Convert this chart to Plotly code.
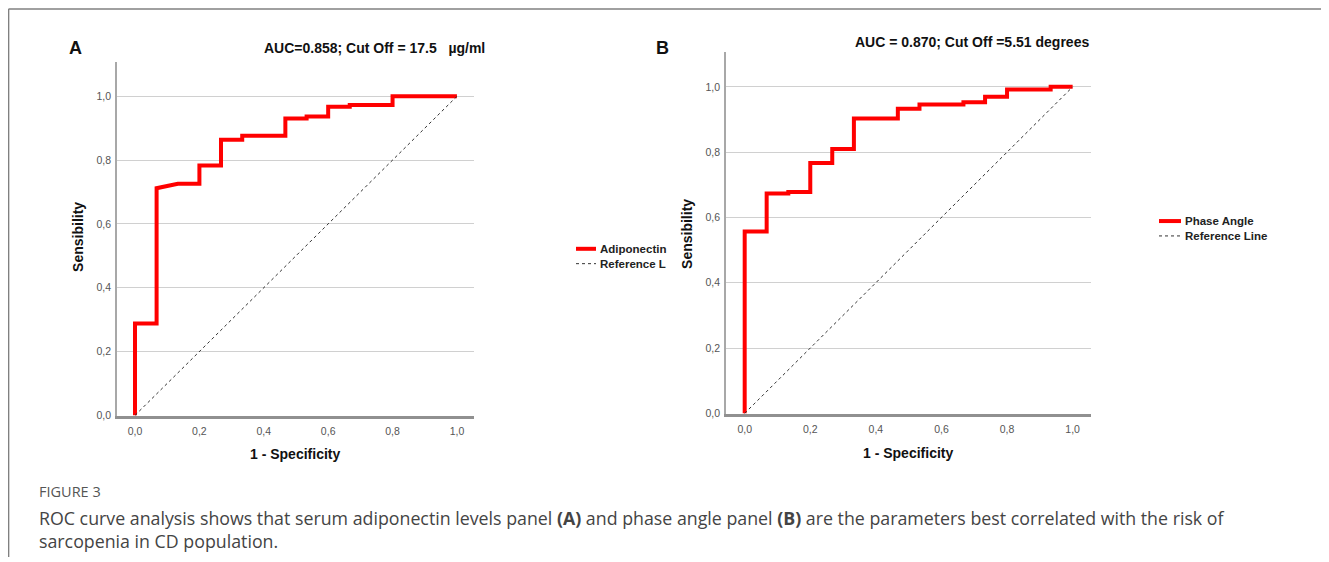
import plotly.graph_objects as go

# ---- data ----
fpr_a = [0, 0, 0.067, 0.067, 0.133, 0.2, 0.2, 0.267, 0.267, 0.333, 0.333, 0.467, 0.467,
         0.533, 0.533, 0.6, 0.6, 0.667, 0.667, 0.8, 0.8, 1.0]
tpr_a = [0, 0.288, 0.288, 0.712, 0.726, 0.726, 0.783, 0.783, 0.864, 0.864, 0.876, 0.876,
         0.930, 0.930, 0.937, 0.937, 0.967, 0.967, 0.973, 0.973, 1.0, 1.0]

fpr_b = [0, 0, 0.067, 0.067, 0.133, 0.133, 0.2, 0.2, 0.267, 0.267, 0.333, 0.333, 0.467,
         0.467, 0.533, 0.533, 0.667, 0.667, 0.733, 0.733, 0.8, 0.8, 0.933, 0.933, 1.0]
tpr_b = [0, 0.557, 0.557, 0.673, 0.673, 0.678, 0.678, 0.767, 0.767, 0.81, 0.81, 0.903,
         0.903, 0.933, 0.933, 0.946, 0.946, 0.953, 0.953, 0.970, 0.970, 0.992, 0.992, 1.0, 1.0]

ref_x = [0, 1]
ref_y = [0, 1]

tick_vals = [0, 0.2, 0.4, 0.6, 0.8, 1.0]
tick_text = ["0,0", "0,2", "0,4", "0,6", "0,8", "1,0"]

name_a = "Adiponectin"
name_ref_a = "Reference L"
name_b = "Phase Angle"
name_ref_b = "Reference Line"

title_a = "AUC=0.858; Cut Off = 17.5&nbsp;&nbsp; \u00b5g/ml"
title_b = "AUC = 0.870; Cut Off =5.51 degrees"
caption_head = "FIGURE 3"
caption = ("ROC curve analysis shows that serum adiponectin levels panel <b>(A)</b> and phase angle panel "
           "<b>(B)</b> are the parameters best correlated with the risk of<br>sarcopenia in CD population.")

# page has an 8px body margin; figure is sized to fit the window
OFF = 8
PAGE_W, PAGE_H = 1329, 562
W, H = PAGE_W - OFF, PAGE_H - OFF
FONT = "Liberation Sans, Arial, sans-serif"
RED = "#ff0000"
DOT = "#333333"


def px(v):
    return (v - OFF) / W


def py(v):
    return 1 - (v - OFF) / H


fig = go.Figure()
fig.add_trace(go.Scatter(x=fpr_a, y=tpr_a, mode="lines", name=name_a,
                         line=dict(color=RED, width=4), xaxis="x", yaxis="y"))
fig.add_trace(go.Scatter(x=ref_x, y=ref_y, mode="lines", name=name_ref_a,
                         line=dict(color=DOT, width=1, dash="dot"), xaxis="x", yaxis="y"))
fig.add_trace(go.Scatter(x=fpr_b, y=tpr_b, mode="lines", name=name_b,
                         line=dict(color=RED, width=4), xaxis="x2", yaxis="y2"))
fig.add_trace(go.Scatter(x=ref_x, y=ref_y, mode="lines", name=name_ref_b,
                         line=dict(color=DOT, width=1, dash="dot"), xaxis="x2", yaxis="y2"))

axis_common = dict(tickvals=tick_vals, ticktext=tick_text, ticks="", showline=True,
                   tickfont=dict(family=FONT, size=10.5, color="#555555"),
                   zeroline=False, fixedrange=True)

fig.update_layout(
    width=W, height=H,
    margin=dict(l=0, r=0, t=0, b=0),
    paper_bgcolor="white", plot_bgcolor="white",
    showlegend=False,
    xaxis=dict(domain=[px(117), px(474)], range=[-0.056, 1.053], showgrid=False,
               anchor="y", linewidth=2.5, linecolor="#909090", ticklabelstandoff=3, **axis_common),
    yaxis=dict(domain=[py(420), py(62)], range=[-0.003, 1.109], showgrid=True, gridcolor="#d0d0d0",
               gridwidth=1.3, anchor="x", linewidth=1.8, linecolor="#a8a8a8", ticklabelstandoff=2,
               **axis_common),
    xaxis2=dict(domain=[px(726), px(1091)], range=[-0.057, 1.056], showgrid=False,
                anchor="y2", linewidth=2.5, linecolor="#909090", ticklabelstandoff=3, **axis_common),
    yaxis2=dict(domain=[py(418), py(52)], range=[-0.003, 1.108], showgrid=True, gridcolor="#d0d0d0",
                gridwidth=1.3, anchor="x2", linewidth=1.8, linecolor="#a8a8a8", ticklabelstandoff=2,
                **axis_common),
)

ann = []


def add_text(text, x, y, size, xanchor="center", yanchor="middle", angle=0, bold=True, color="#111111",
             family=FONT, align="left"):
    ann.append(dict(text=text, x=px(x), y=py(y), xref="paper", yref="paper", showarrow=False,
                    xanchor=xanchor, yanchor=yanchor, textangle=angle, align=align,
                    font=dict(family=family, size=size, color=color, weight="bold" if bold else "normal")))


add_text("A", 75, 48, 18)
add_text("B", 662, 48, 18)
add_text(title_a, 374, 48, 14)
add_text(title_b, 972, 42, 14)
add_text("1 - Specificity", 295, 458, 14)
add_text("1 - Specificity", 908, 457, 14)
add_text("Sensibility", 78, 239, 14, angle=-90)
add_text("Sensibility", 687, 236, 14, angle=-90)
add_text(caption_head, 37, 496, 14.5, xanchor="left", bold=False, color="#555555",
         family="Open Sans, sans-serif")
add_text(caption, 37, 534, 17.8, xanchor="left", bold=False, color="#444444",
         family="Open Sans, sans-serif")

# legends (drawn manually to match the short SPSS-style keys)
LEG_FONT = 11.5
add_text(name_a, 598, 251, LEG_FONT, xanchor="left", color="#222222")
add_text(name_ref_a, 598, 266, LEG_FONT, xanchor="left", color="#222222")
add_text(name_b, 1183, 223, LEG_FONT, xanchor="left", color="#222222")
add_text(name_ref_b, 1183, 238, LEG_FONT, xanchor="left", color="#222222")
fig.update_layout(annotations=ann)


def hline(x0, x1, y, color, width, dash="solid"):
    return dict(type="line", xref="paper", yref="paper", x0=px(x0), x1=px(x1), y0=py(y), y1=py(y),
                line=dict(color=color, width=width, dash=dash))


fig.update_layout(shapes=[
    hline(8.5, PAGE_W, 9, "#808080", 1.5),
    dict(type="line", xref="paper", yref="paper", x0=px(8.6), x1=px(8.6), y0=py(9), y1=0,
         line=dict(color="#808080", width=1.5)),
    hline(576, 596, 251, RED, 4),
    hline(576, 596, 266, DOT, 1, "dot"),
    hline(1159, 1181, 223, RED, 4),
    hline(1159, 1181, 238, DOT, 1, "dot"),
])

fig.write_html("out.html")
